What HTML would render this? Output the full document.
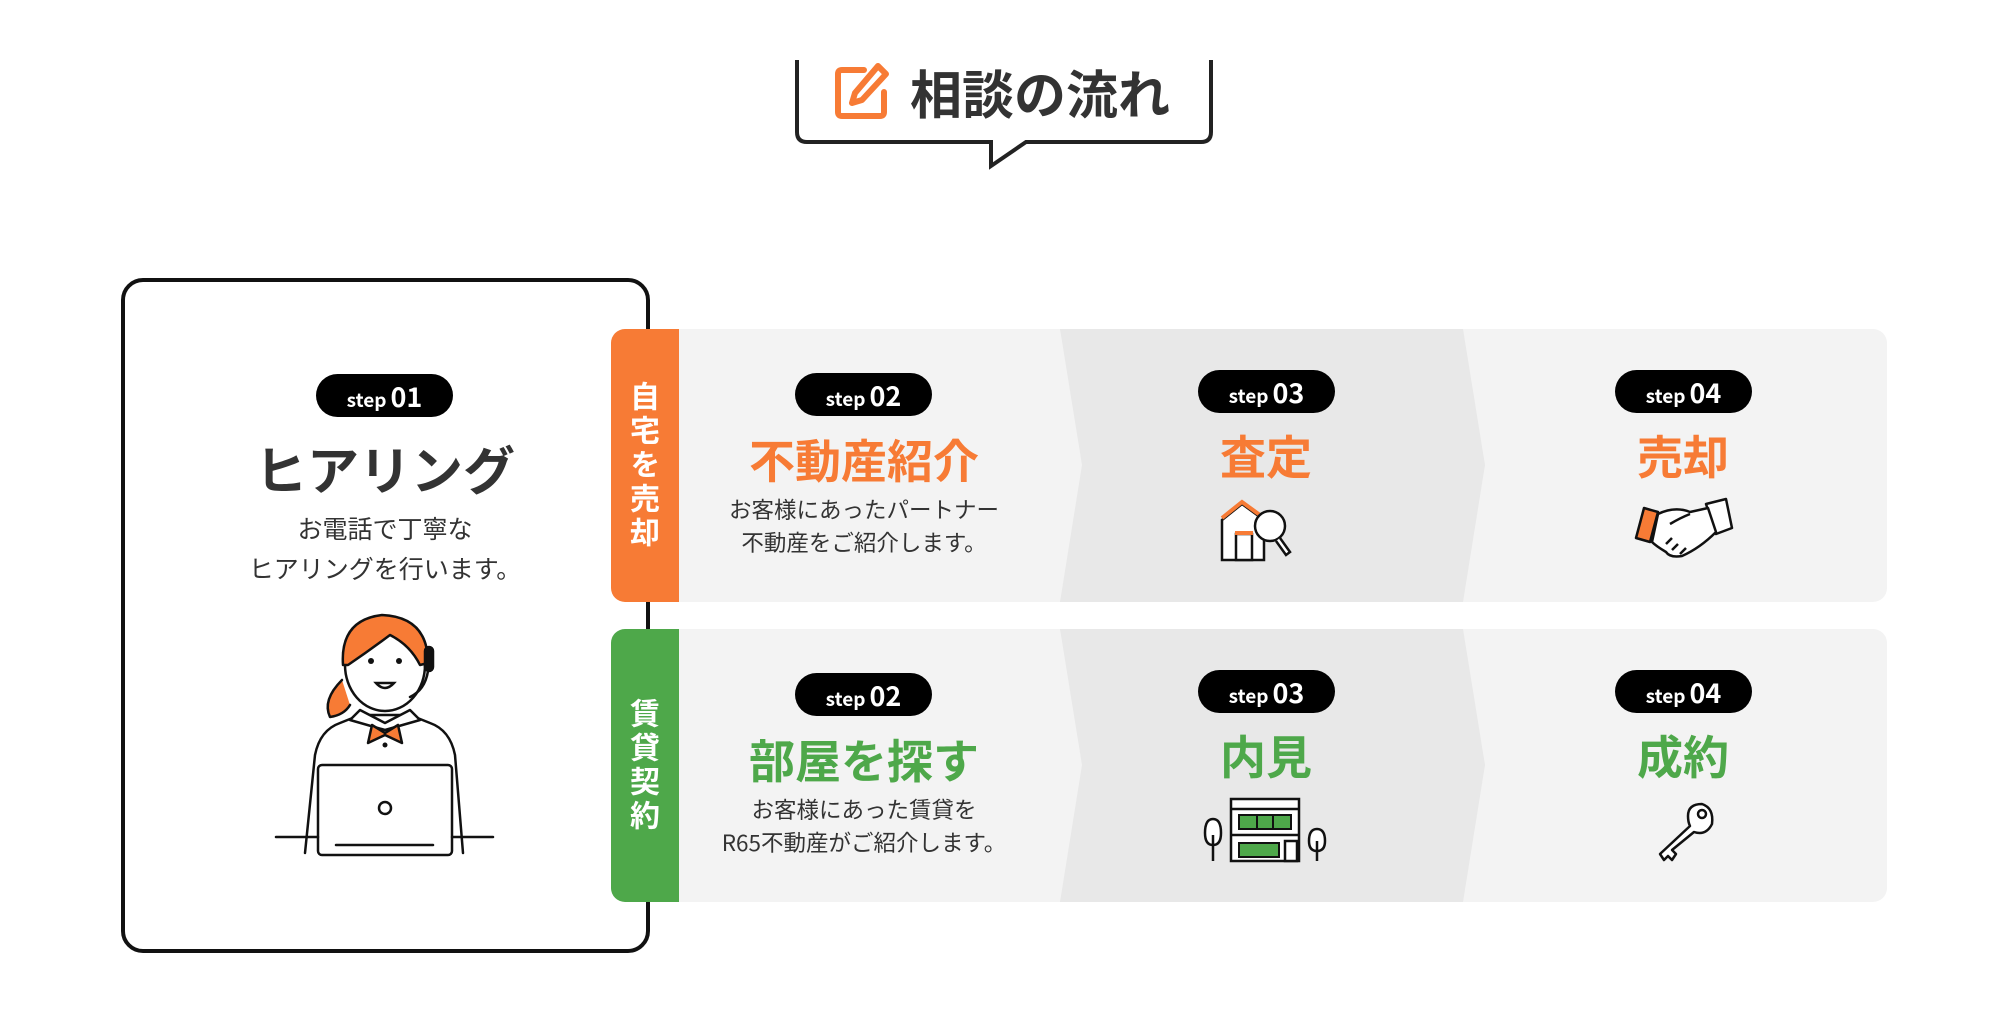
<!DOCTYPE html>
<html><head><meta charset="utf-8">
<style>
*{margin:0;padding:0;box-sizing:border-box}
body{width:1999px;height:1022px;background:#fff;position:relative;overflow:hidden;font-family:"Liberation Sans","Noto Sans CJK JP",sans-serif;color:#333}
.abs{position:absolute}
.pill{position:absolute;width:137px;height:43px;border-radius:22px;background:#000;color:#fff;text-align:center;line-height:43px;font-family:"Noto Sans CJK JP",sans-serif;font-weight:700;white-space:nowrap}
.pill .s{font-size:19px}
.pill .n{font-size:27px;margin-left:4px}
.ttl{position:absolute;text-align:center;font-family:"Noto Sans CJK JP",sans-serif;font-weight:700;font-size:46px;line-height:56px;white-space:nowrap;transform:translateX(-50%)}
.desc{position:absolute;text-align:center;font-family:"Noto Sans CJK JP",sans-serif;font-size:22.5px;line-height:33px;color:#333;white-space:nowrap;transform:translateX(-50%)}
.tab{position:absolute;left:611px;width:68px;height:273px;border-radius:14px 0 0 14px;color:#fff;font-family:"Noto Sans CJK JP",sans-serif;font-weight:700;font-size:30px;writing-mode:vertical-rl;display:flex;align-items:center;justify-content:center;letter-spacing:4px}
</style></head><body>

<svg class="abs" style="left:0;top:0" width="1999" height="200">
<path d="M797 60 V132 Q797 142 807 142 H991 V166 L1026 142 H1201 Q1211 142 1211 132 V60" fill="none" stroke="#222" stroke-width="4" stroke-linejoin="miter"/>
<g fill="none" stroke="#f77b35" stroke-width="6" stroke-linecap="round" stroke-linejoin="round">
<path d="M864 70 H842 Q838 70 838 74 V112 Q838 116 842 116 H880 Q884 116 884 112 V92"/>
<path d="M878 66 L886 74 L862 100 L852 103 L855 93 Z"/>
</g>
</svg>
<div class="abs" style="left:910px;top:59px;font-family:'Noto Sans CJK JP',sans-serif;font-weight:700;font-size:52px;line-height:66px;color:#333">相談の流れ</div>

<div class="abs" style="left:121px;top:278px;width:529px;height:675px;border:4px solid #111;border-radius:22px"></div>
<div class="pill" style="left:316px;top:374px"><span class="s">step</span><span class="n">01</span></div>
<div class="ttl" style="left:385px;top:440px;font-size:52px;color:#333">ヒアリング</div>
<div class="desc" style="left:385px;top:508px;font-size:25px;line-height:40px">お電話で丁寧な<br>ヒアリングを行います。</div>

<svg class="abs" style="left:270px;top:605px" width="230" height="260" viewBox="0 0 230 260">
<g stroke="#111" stroke-width="2.5" fill="none" stroke-linejoin="round" stroke-linecap="round">
<path d="M72 75 Q52 95 60 112 Q74 110 80 100" fill="#f77b35"/>
<path d="M35 248 L45 150 Q50 125 70 118 L90 110 H140 L160 118 Q180 125 185 150 L193 248" fill="#fff"/>
<ellipse cx="115" cy="60" rx="40" ry="46" fill="#fff"/>
<path d="M73 60 Q70 15 112 10 Q158 12 158 58 L150 60 Q140 40 120 30 Q100 45 78 60 Z" fill="#f77b35"/>
<path d="M90 105 L115 118 L140 105 L150 115 L115 125 L80 115 Z" fill="#fff"/>
<path d="M102 120 L115 128 L128 120 L132 138 L115 130 L98 138 Z" fill="#f77b35"/>
<rect x="155" y="42" width="8" height="24" rx="4" fill="#111"/>
<path d="M158 66 Q155 85 140 92"/>
<rect x="48" y="160" width="134" height="90" rx="4" fill="#fff"/>
<circle cx="115" cy="203" r="6"/>
<path d="M66 240 H163"/>
<path d="M6 232 H48 M182 232 H223"/>
</g>
<g fill="#111"><circle cx="101" cy="56" r="3"/><circle cx="129" cy="56" r="3"/><circle cx="115" cy="140" r="2.5"/></g>
<path d="M106 78 Q115 88 124 78 Z" stroke="#111" stroke-width="2.5" fill="#fff"/>
</svg>

<svg class="abs" style="left:0;top:0" width="1999" height="1022">
<defs>
<clipPath id="c1"><rect x="640" y="329" width="1247" height="273" rx="14"/></clipPath>
<clipPath id="c2"><rect x="640" y="629" width="1247" height="273" rx="14"/></clipPath>
</defs>
<g clip-path="url(#c1)">
<rect x="640" y="329" width="1247" height="273" fill="#f3f3f3"/>
<path d="M1060 329 L1082 465 L1060 602 H1463 L1485 465 L1463 329 Z" fill="#e8e8e8"/>
</g>
<g clip-path="url(#c2)">
<rect x="640" y="629" width="1247" height="273" fill="#f3f3f3"/>
<path d="M1060 629 L1082 765 L1060 902 H1463 L1485 765 L1463 629 Z" fill="#e8e8e8"/>
</g>
</svg>
<div class="tab" style="top:329px;background:#f77b35">自宅を売却</div>
<div class="tab" style="top:629px;background:#4ea84a">賃貸契約</div>

<div class="pill" style="left:795px;top:373px"><span class="s">step</span><span class="n">02</span></div>
<div class="ttl" style="left:864px;top:431px;color:#f77b35">不動産紹介</div>
<div class="desc" style="left:864px;top:493px">お客様にあったパートナー<br>不動産をご紹介します。</div>

<div class="pill" style="left:1198px;top:370px"><span class="s">step</span><span class="n">03</span></div>
<div class="ttl" style="left:1266px;top:427px;color:#f77b35">査定</div>
<svg class="abs" style="left:1218px;top:498px" width="100" height="70" viewBox="0 0 100 70">
<g stroke="#111" stroke-width="2.5" fill="#fff">
<path d="M4 62 V22 L24 6 L46 22 V62 Z"/>
<rect x="18" y="36" width="16" height="26"/>
</g>
<path d="M4 20 L24 4 L46 20" stroke="#f77b35" stroke-width="4" fill="none"/>
<rect x="17" y="33" width="18" height="4" fill="#f77b35"/>
<g stroke="#111" stroke-width="2.5" fill="#fff"><circle cx="52" cy="28" r="15"/><path d="M62 40 L72 54 L68 57 L58 43"/></g>
</svg>

<div class="pill" style="left:1615px;top:370px"><span class="s">step</span><span class="n">04</span></div>
<div class="ttl" style="left:1683px;top:427px;color:#f77b35">売却</div>
<svg class="abs" style="left:1630px;top:496px" width="105" height="70" viewBox="0 0 105 70">
<g stroke="#111" stroke-width="2.5" stroke-linejoin="round">
<path d="M6 42 L14 12 L28 16 L20 46 Z" fill="#f77b35"/>
<path d="M76 8 L96 3 L102 32 L86 38 Z" fill="#fff"/>
<path d="M28 18 Q45 10 60 16 L78 12 L86 36 Q70 52 52 60 Q40 62 36 56 Q26 50 22 46 Z" fill="#fff"/>
<path d="M40 28 Q50 22 60 18"/>
<path d="M36 48 L42 42 M42 54 L48 48 M50 58 L56 52" fill="none"/>
</g>
</svg>

<div class="pill" style="left:795px;top:673px"><span class="s">step</span><span class="n">02</span></div>
<div class="ttl" style="left:864px;top:731px;color:#4ea84a">部屋を探す</div>
<div class="desc" style="left:864px;top:793px">お客様にあった賃貸を<br>R65不動産がご紹介します。</div>

<div class="pill" style="left:1198px;top:670px"><span class="s">step</span><span class="n">03</span></div>
<div class="ttl" style="left:1266px;top:727px;color:#4ea84a">内見</div>
<svg class="abs" style="left:1203px;top:795px" width="126" height="70" viewBox="0 0 126 70">
<g stroke="#111" stroke-width="2.5" fill="#fff">
<rect x="28" y="4" width="68" height="62"/>
<path d="M28 14 H96 M28 40 H96"/>
<path d="M10 50 Q2 50 2 38 Q2 24 10 24 Q18 24 18 38 Q18 50 10 50 Z M10 40 V66"/>
<path d="M114 56 Q106 56 106 46 Q106 34 114 34 Q122 34 122 46 Q122 56 114 56 Z M114 46 V66"/>
<rect x="82" y="46" width="12" height="20"/>
</g>
<rect x="36" y="20" width="52" height="14" fill="#4ea84a" stroke="#111" stroke-width="2"/>
<path d="M54 20 V34 M70 20 V34" stroke="#111" stroke-width="2"/>
<rect x="36" y="48" width="40" height="14" fill="#4ea84a" stroke="#111" stroke-width="2"/>
</svg>

<div class="pill" style="left:1615px;top:670px"><span class="s">step</span><span class="n">04</span></div>
<div class="ttl" style="left:1683px;top:727px;color:#4ea84a">成約</div>
<svg class="abs" style="left:1650px;top:796px" width="70" height="70" viewBox="0 0 70 70">
<g stroke="#111" stroke-width="2.5" fill="#fff" stroke-linejoin="round">
<path d="M40 30 L10 58 L14 64 L18 60 L22 64 L26 58 L22 54 L44 36 Q56 40 62 28 Q64 12 52 8 Q38 8 38 20 Q38 26 40 30 Z"/>
<circle cx="52" cy="18" r="4"/>
</g>
</svg>

</body></html>
